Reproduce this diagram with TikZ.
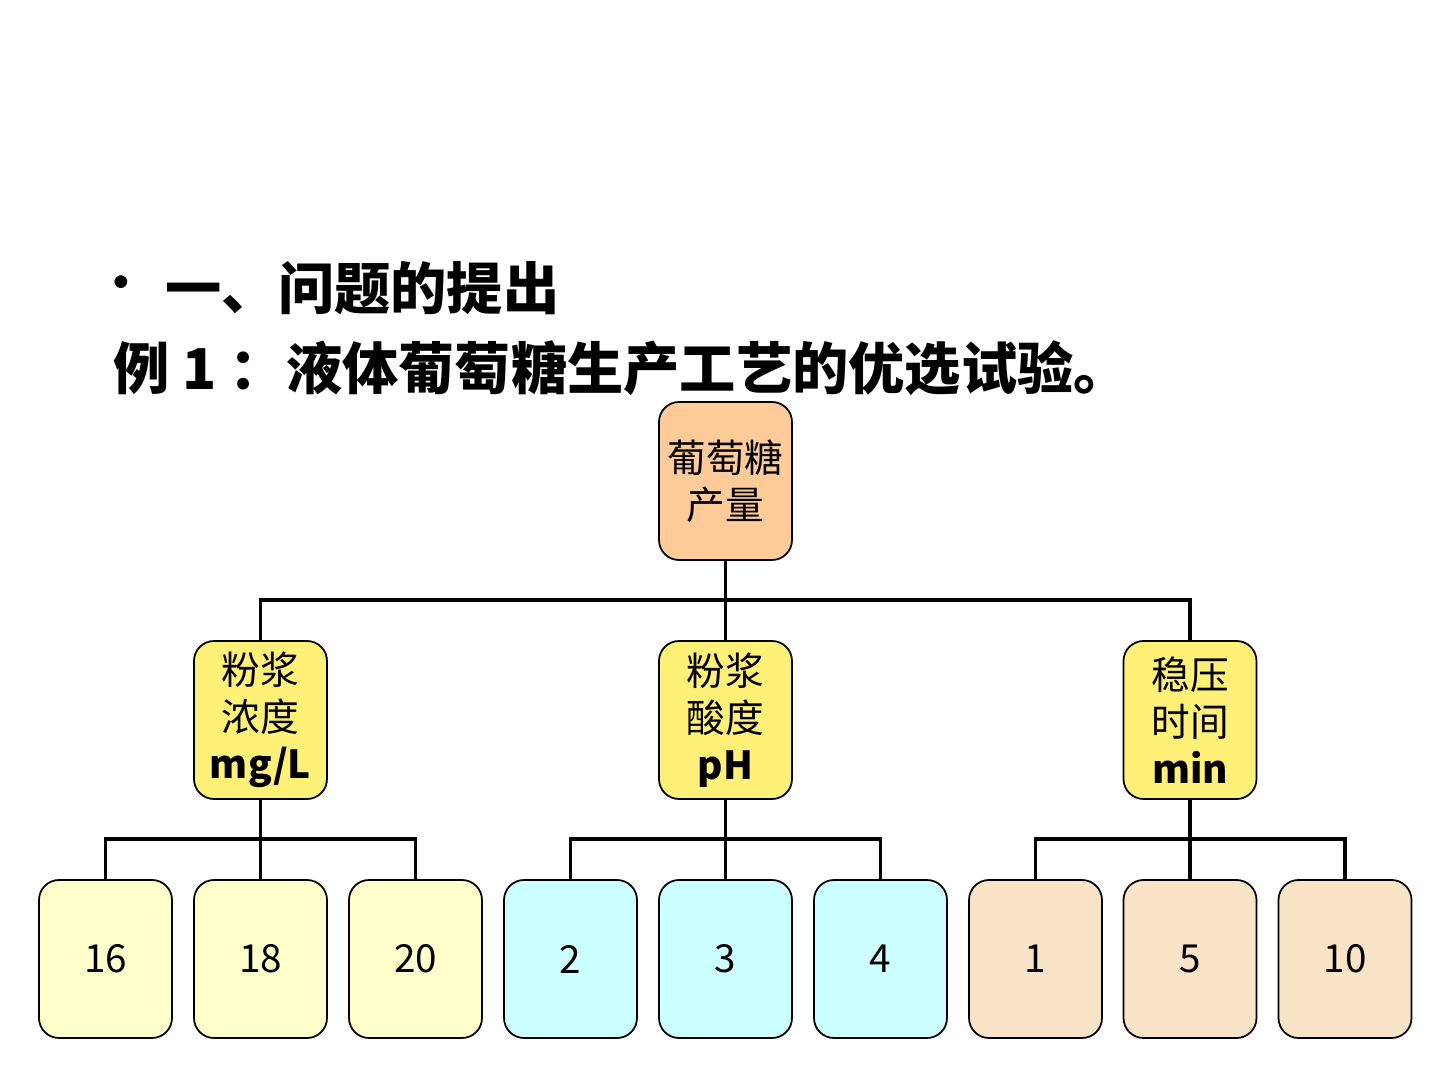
\documentclass[tikz,border=0pt]{standalone}
\usepackage{fontspec}
\setmainfont{Noto Sans CJK SC}
\definecolor{peach}{RGB}{255,204,153}
\definecolor{gold}{RGB}{255,240,120}
\definecolor{cream}{RGB}{255,255,204}
\definecolor{aqua}{RGB}{204,255,255}
\definecolor{wheat}{RGB}{250,228,200}
\begin{document}
\begin{tikzpicture}[line width=1pt,
    box/.style={draw, line width=0.5pt, rounded corners=0.2cm, minimum width=1.33cm, minimum height=1.58cm, inner sep=0pt, align=center, font=\fontsize{11}{13.4}\selectfont},
    top node/.style={box, fill=peach},
    mid node/.style={box, fill=gold},
    leaf node/.style={box},
    title node/.style={anchor=west, inner sep=0pt, font=\fontsize{16}{18}\selectfont\bfseries}]

    \useasboundingbox (0,0) rectangle (14.4,-10.8);

    % Title
    \node[inner sep=0pt, font=\fontsize{13}{15}\selectfont\bfseries] (bul) at (1.21,-2.88) {•};
    \node[title node] (t1) at (1.64,-2.88) {一、问题的提出};
    \node[title node] (t2) at (1.12,-3.68) {例 1 ：液体葡萄糖生产工艺的优选试验。};

    % Tree
    \node[top node] (top) at (7.255,-4.81) {葡萄糖\\产量};

    \node[mid node] (m1) at (2.605,-7.2) {粉浆\\浓度\\\textbf{mg/L}};
    \node[mid node] (m2) at (7.255,-7.2) {粉浆\\酸度\\\textbf{pH}};
    \node[mid node] (m3) at (11.9,-7.2) {稳压\\时间\\\textbf{min}};

    \node[leaf node, fill=cream] (l1) at (1.055,-9.59) {16};
    \node[leaf node, fill=cream] (l2) at (2.605,-9.59) {18};
    \node[leaf node, fill=cream] (l3) at (4.155,-9.59) {20};
    \node[leaf node, fill=aqua] (l4) at (5.705,-9.59) {2};
    \node[leaf node, fill=aqua] (l5) at (7.255,-9.59) {3};
    \node[leaf node, fill=aqua] (l6) at (8.805,-9.59) {4};
    \node[leaf node, fill=wheat] (l7) at (10.355,-9.59) {1};
    \node[leaf node, fill=wheat] (l8) at (11.9,-9.59) {5};
    \node[leaf node, fill=wheat] (l9) at (13.45,-9.59) {10};

    \coordinate (j0) at (7.255,-6.0);
    \coordinate (j1) at (2.605,-8.39);
    \coordinate (j2) at (7.255,-8.39);
    \coordinate (j3) at (11.9,-8.39);

    \draw (top) -- (m2);
    \draw (m1) |- (j0) -| (m3);

    \draw (m1) -- (l2);
    \draw (l1) |- (j1) -| (l3);
    \draw (m2) -- (l5);
    \draw (l4) |- (j2) -| (l6);
    \draw (m3) -- (l8);
    \draw (l7) |- (j3) -| (l9);

\end{tikzpicture}
\end{document}
